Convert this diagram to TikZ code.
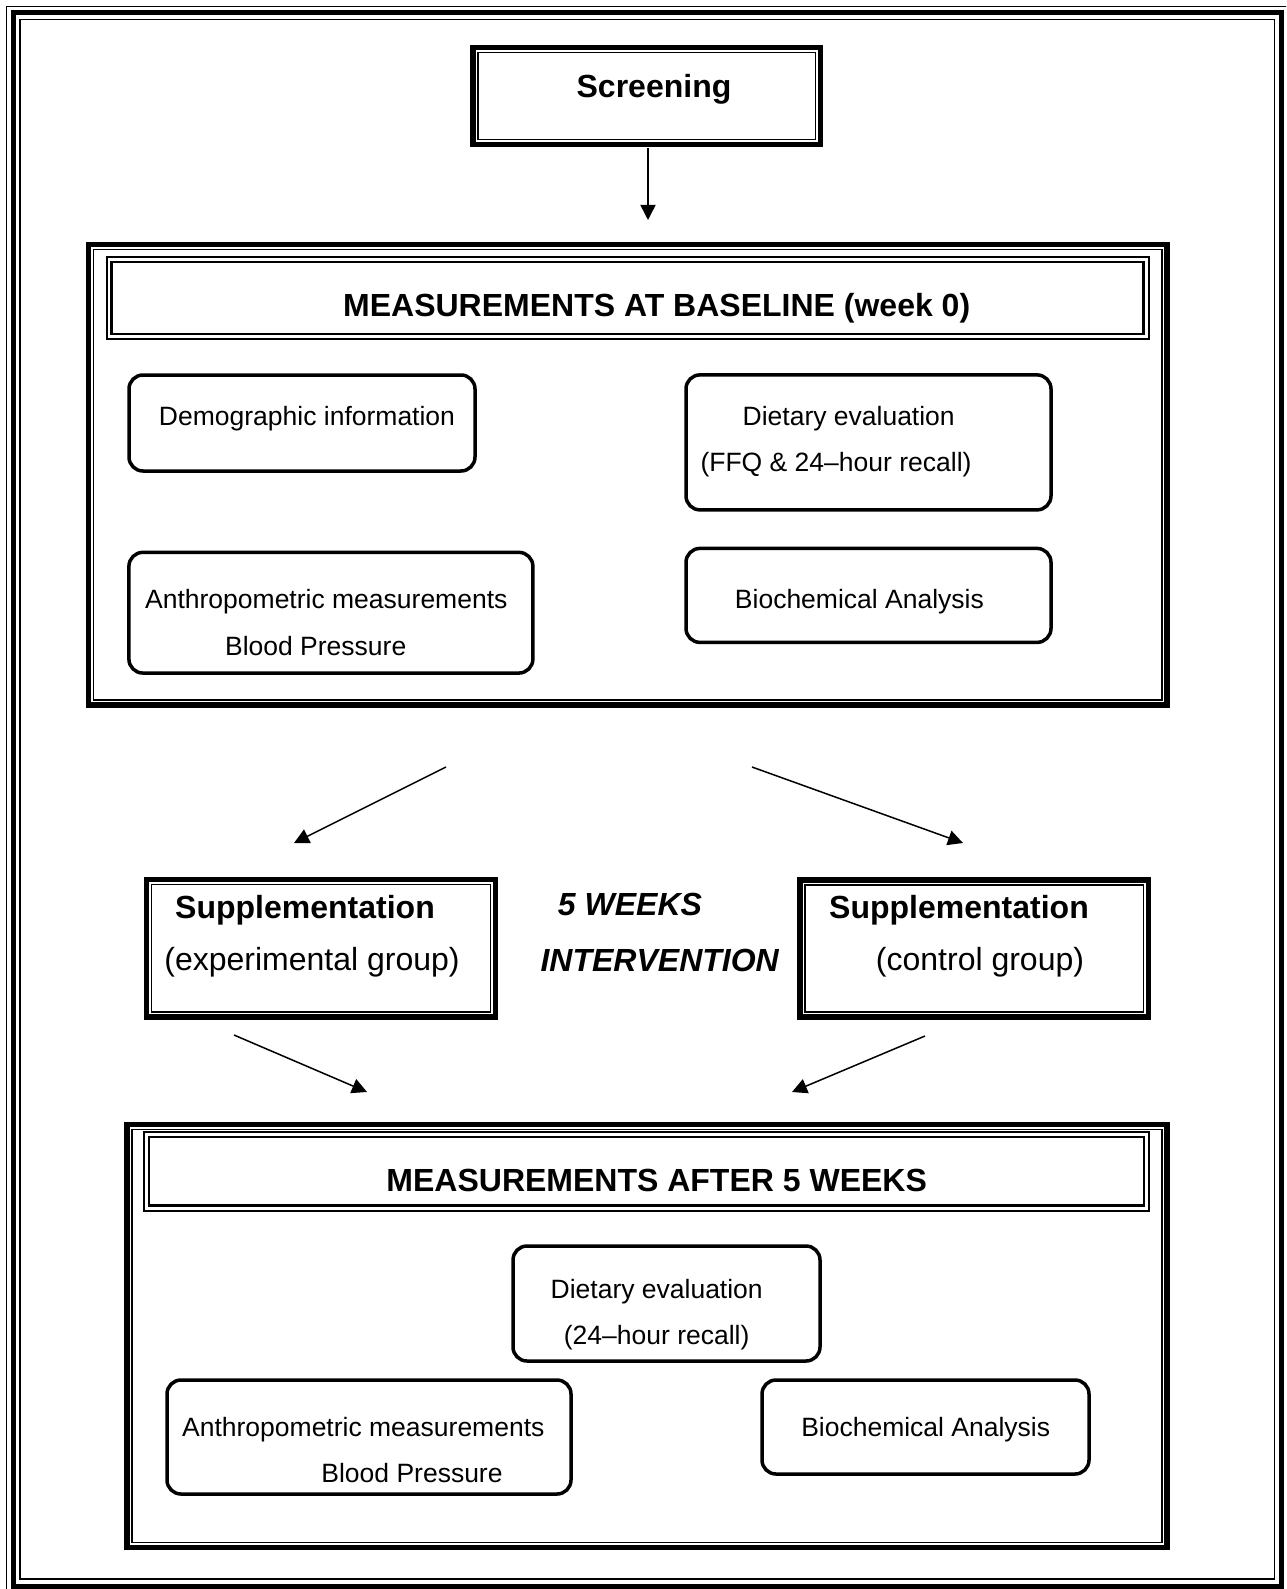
\documentclass[tikz,border=0pt]{standalone}
\usepackage{fontspec}
\setmainfont{Liberation Sans}
\usetikzlibrary{arrows.meta}
\tikzset{
  thickbox/.style={draw, line width=5.5pt, inner sep=0pt,
    path picture={\draw[line width=1.3pt] ([shift={(5pt,-5pt)}]path picture bounding box.north west) rectangle ([shift={(-5pt,5pt)}]path picture bounding box.south east);}},
  titlebox/.style={draw, line width=2pt, inner sep=0pt,
    path picture={\draw[line width=2.6pt] ([shift={(5pt,-5pt)}]path picture bounding box.north west) rectangle ([shift={(-5pt,5pt)}]path picture bounding box.south east);}},
  roundbox/.style={draw, line width=3.5pt, rounded corners=14pt, inner sep=0pt},
  smalltxt/.style={inner sep=0pt, yshift=-6pt, font=\fontsize{26.5}{32}\selectfont, text height=0.72em, text depth=0pt},
  bigtxt/.style={inner sep=0pt, yshift=-7pt, font=\fontsize{32}{38}\selectfont, text height=0.72em, text depth=0pt},
  bigbold/.style={bigtxt, font=\fontsize{32}{38}\selectfont\bfseries},
  bigbi/.style={bigtxt, font=\fontsize{32}{38}\selectfont\bfseries\itshape},
  arr/.style={line width=1.5pt, -{Triangle[length=15pt,width=15pt]}},
  frameline/.style={line width=1.3pt}
}
\begin{document}
\begin{tikzpicture}[x=1pt, y=-1pt]
\useasboundingbox (0,0) rectangle (1286,1589);
\clip (0,0) rectangle (1286,1589);
\fill[white] (0,0) rectangle (1286,1589);
% page frame
\draw[frameline] (6.5,6.5) rectangle (1289,1594);
\draw[line width=5.5pt] (13.5,12.5) rectangle (1281.5,1587);
\draw[frameline] (20,19.5) rectangle (1274.5,1579);

% Screening
\node[thickbox, minimum width=347.5pt, minimum height=97pt] (scr) at (646.75,96) {};
\node[bigbold] (scrt) at (654,87) {Screening};

% Baseline block
\node[thickbox, minimum width=1078.5pt, minimum height=460.5pt] (base) at (627.75,474.75) {};
\node[titlebox, minimum width=1042pt, minimum height=81.6pt] (baset) at (627.75,298) {};
\node[bigbold] (basett) at (656.7,306) {MEASUREMENTS AT BASELINE (week 0)};

\node[roundbox, minimum width=346pt, minimum height=96pt] (demo) at (302,423) {};
\node[smalltxt] (demot) at (307,415.5) {Demographic information};

\node[roundbox, minimum width=365pt, minimum height=135pt] (diet) at (868.5,442.4) {};
\node[smalltxt] (dietta) at (848.7,415.5) {Dietary evaluation};
\node[smalltxt] (diettb) at (836,462) {(FFQ \& 24–hour recall)};

\node[roundbox, minimum width=404pt, minimum height=120.7pt] (anth) at (330.9,612.7) {};
\node[smalltxt] (anthta) at (326.3,599) {Anthropometric measurements};
\node[smalltxt] (anthtb) at (315.7,645.5) {Blood Pressure};

\node[roundbox, minimum width=365pt, minimum height=94pt] (bioc) at (868.5,595.4) {};
\node[smalltxt] (bioct) at (859.4,599) {Biochemical Analysis};

% arrows from baseline
\coordinate (a1s) at (648,148);
\coordinate (a1e) at (648,220);
\draw[arr] (a1s) -- (a1e);
\coordinate (a2s) at (446,767);
\coordinate (a2e) at (294,843);
\draw[arr] (a2s) -- (a2e);
\coordinate (a3s) at (752,767);
\coordinate (a3e) at (963,843);
\draw[arr] (a3s) -- (a3e);

% Supplementation
\node[thickbox, minimum width=349pt, minimum height=137.5pt] (supe) at (321,948.25) {};
\node[bigbold] (supeta) at (305,908) {Supplementation};
\node[bigtxt] (supetb) at (312,960) {(experimental group)};

\node[thickbox, minimum width=348.5pt, minimum height=137pt] (supc) at (974.25,948.5) {};
\node[bigbold] (supcta) at (959,908) {Supplementation};
\node[bigtxt] (supctb) at (980,960) {(control group)};

\node[bigbi] (wk) at (630,905) {5 WEEKS};
\node[bigbi] (intv) at (659.7,960.7) {INTERVENTION};

\coordinate (a4s) at (234,1035);
\coordinate (a4e) at (367,1092);
\draw[arr] (a4s) -- (a4e);
\coordinate (a5s) at (925,1036);
\coordinate (a5e) at (792,1092);
\draw[arr] (a5s) -- (a5e);

% After block
\node[thickbox, minimum width=1040pt, minimum height=423pt] (aft) at (647,1336) {};
\node[titlebox, minimum width=1005pt, minimum height=78.5pt] (aftt) at (646.5,1171.25) {};
\node[bigbold] (afttt) at (656.7,1180.6) {MEASUREMENTS AFTER 5 WEEKS};

\node[roundbox, minimum width=307pt, minimum height=115pt] (diet2) at (666.5,1303.5) {};
\node[smalltxt] (diet2ta) at (656.7,1289) {Dietary evaluation};
\node[smalltxt] (diet2tb) at (656.7,1335) {(24–hour recall)};

\node[roundbox, minimum width=404pt, minimum height=114pt] (anth2) at (369,1437) {};
\node[smalltxt] (anth2ta) at (363.3,1427) {Anthropometric measurements};
\node[smalltxt] (anth2tb) at (412,1472.5) {Blood Pressure};

\node[roundbox, minimum width=327pt, minimum height=94pt] (bioc2) at (925.5,1427) {};
\node[smalltxt] (bioc2t) at (925.7,1427) {Biochemical Analysis};
\end{tikzpicture}
\end{document}
